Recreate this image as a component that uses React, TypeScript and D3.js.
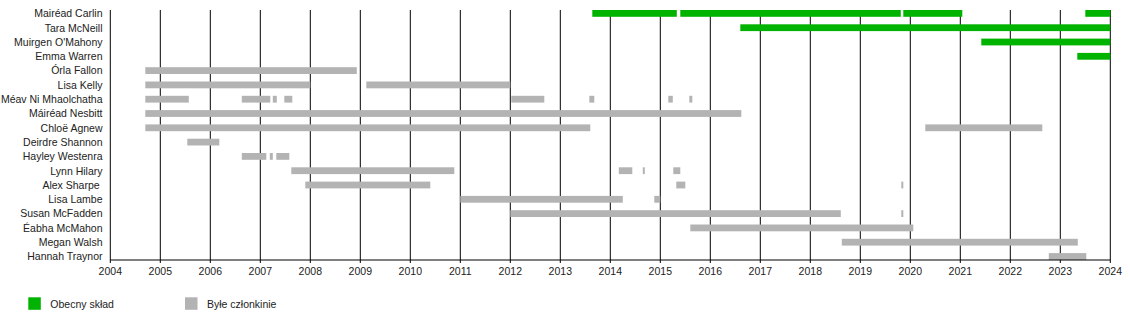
import React from "react";
import * as d3 from "d3";

const members = [
  "Mairéad Carlin",
  "Tara McNeill",
  "Muirgen O'Mahony",
  "Emma Warren",
  "Órla Fallon",
  "Lisa Kelly",
  "Méav Ni Mhaolchatha",
  "Máiréad Nesbitt",
  "Chloë Agnew",
  "Deirdre Shannon",
  "Hayley Westenra",
  "Lynn Hilary",
  "Alex Sharpe\u00a0",
  "Lisa Lambe",
  "Susan McFadden",
  "Éabha McMahon",
  "Megan Walsh",
  "Hannah Traynor",
];

// current line-up spans: [member, start, end]
const currentSpans: [string, number, number][] = [
  ["Mairéad Carlin", 2013.64, 2015.33],
  ["Mairéad Carlin", 2015.4, 2019.81],
  ["Mairéad Carlin", 2019.86, 2021.04],
  ["Mairéad Carlin", 2023.5, 2024.0],
  ["Tara McNeill", 2016.6, 2024.0],
  ["Muirgen O'Mahony", 2021.42, 2024.0],
  ["Emma Warren", 2023.34, 2024.0],
];

// former member spans: [member, start, end]
const formerSpans: [string, number, number][] = [
  ["Órla Fallon", 2004.7, 2008.93],
  ["Lisa Kelly", 2004.7, 2008.0],
  ["Lisa Kelly", 2009.12, 2012.0],
  ["Méav Ni Mhaolchatha", 2004.7, 2005.57],
  ["Méav Ni Mhaolchatha", 2006.63, 2007.2],
  ["Méav Ni Mhaolchatha", 2007.25, 2007.33],
  ["Méav Ni Mhaolchatha", 2007.48, 2007.64],
  ["Méav Ni Mhaolchatha", 2012.02, 2012.68],
  ["Méav Ni Mhaolchatha", 2013.58, 2013.68],
  ["Méav Ni Mhaolchatha", 2015.16, 2015.25],
  ["Méav Ni Mhaolchatha", 2015.58, 2015.64],
  ["Máiréad Nesbitt", 2004.7, 2016.62],
  ["Chloë Agnew", 2004.7, 2013.6],
  ["Chloë Agnew", 2020.3, 2022.64],
  ["Deirdre Shannon", 2005.54, 2006.18],
  ["Hayley Westenra", 2006.63, 2007.12],
  ["Hayley Westenra", 2007.19, 2007.25],
  ["Hayley Westenra", 2007.32, 2007.58],
  ["Lynn Hilary", 2007.62, 2010.88],
  ["Lynn Hilary", 2014.17, 2014.44],
  ["Lynn Hilary", 2014.65, 2014.69],
  ["Lynn Hilary", 2015.26, 2015.4],
  ["Alex Sharpe\u00a0", 2007.9, 2010.4],
  ["Alex Sharpe\u00a0", 2015.32, 2015.5],
  ["Alex Sharpe\u00a0", 2019.82, 2019.86],
  ["Lisa Lambe", 2011.0, 2014.25],
  ["Lisa Lambe", 2014.88, 2015.0],
  ["Susan McFadden", 2012.0, 2018.61],
  ["Susan McFadden", 2019.82, 2019.86],
  ["Éabha McMahon", 2015.6, 2020.06],
  ["Megan Walsh", 2018.63, 2023.35],
  ["Hannah Traynor", 2022.77, 2023.52],
];

const yearTicks = d3.range(2004, 2025);

const legendItems = [
  { label: "Obecny skład", key: "current" },
  { label: "Byłe członkinie", key: "former" },
];

const COLORS: Record<string, string> = { current: "#00b300", former: "#b3b3b3" };

export default function App() {
  const W = 1130;
  const H = 320;
  const x = d3.scaleLinear().domain([2004, 2024]).range([110.3, 1110.3]);
  const rowStep = 14.3;
  const y = d3
    .scaleBand<string>()
    .domain(members)
    .range([10, 10 + rowStep * members.length])
    .paddingInner(0)
    .paddingOuter(0);
  const barH = 6.8;
  const axisY = 260;
  const font = "'Liberation Sans', Arial, sans-serif";

  return (
    <svg
      width={W}
      height={H}
      style={{ position: "absolute", left: 0, top: 0, background: "#fff" }}
      fontFamily={font}
    >
      {/* grid lines */}
      {yearTicks.map((t) => (
        <line
          key={"g" + t}
          x1={x(t)}
          x2={x(t)}
          y1={10}
          y2={axisY + 3}
          stroke="#000"
          strokeWidth={1}
        />
      ))}
      {/* bars */}
      {formerSpans.map(([m, s, e], i) => (
        <rect
          key={"f" + i}
          x={x(s)}
          width={Math.max(1, x(e) - x(s))}
          y={y(m) as number}
          height={barH}
          fill={COLORS.former}
        />
      ))}
      {currentSpans.map(([m, s, e], i) => (
        <rect
          key={"c" + i}
          x={x(s)}
          width={Math.max(1, x(e) - x(s))}
          y={y(m) as number}
          height={barH}
          fill={COLORS.current}
        />
      ))}
      {/* axis */}
      <line x1={x(2004)} x2={x(2024)} y1={axisY} y2={axisY} stroke="#000" strokeWidth={1} />
      {yearTicks.map((t) => (
        <text
          key={"t" + t}
          x={x(t)}
          y={axisY + 15}
          textAnchor="middle"
          fontSize={10.5}
          fill="#222"
        >
          {t}
        </text>
      ))}
      {/* labels */}
      {members.map((m) => (
        <text
          key={"l" + m}
          x={102.5}
          y={(y(m) as number) + barH / 2 + 3.8}
          textAnchor="end"
          fontSize={10.5}
          fill="#222"
          style={{ whiteSpace: "pre" }}
        >
          {m}
        </text>
      ))}
      {/* legend */}
      {legendItems.map((it, i) => {
        const lx = i === 0 ? 28.3 : 185;
        return (
          <g key={it.key}>
            <rect x={lx} y={297.3} width={12.5} height={12.5} fill={COLORS[it.key]} />
            <text x={lx + 22} y={307.5} fontSize={10.5} fill="#222">
              {it.label}
            </text>
          </g>
        );
      })}
    </svg>
  );
}
